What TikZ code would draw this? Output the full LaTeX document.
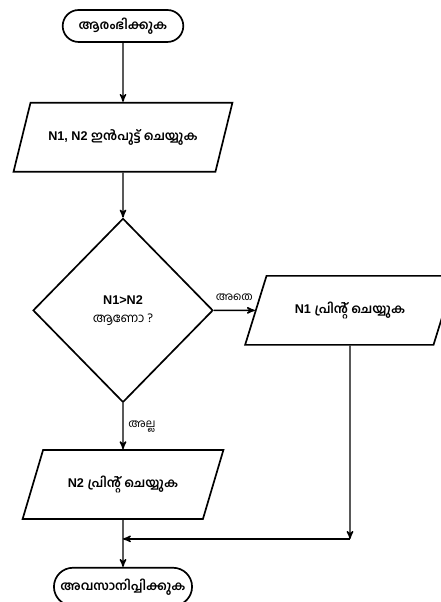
\documentclass[tikz,border=0pt]{standalone}
\usepackage{fontspec}
\setmainfont{Liberation Sans}
\newfontfamily\mlfont[Script=Malayalam]{Hind Kochi}
\newcommand{\ml}[1]{{\mlfont #1}}
\usetikzlibrary{shapes.geometric, shapes.misc, positioning, arrows}
\tikzset{
>=stealth', % arrow heads of the connectors
every node/.style={font=\bfseries\fontsize{9}{11}\selectfont}, % text in the blocks
terminal/.style={rounded rectangle, draw, line width=1.2pt, minimum width=3.25cm, minimum height=0.8cm}, % start and stop
io/.style={trapezium, trapezium left angle=60, trapezium right angle=120, trapezium stretches=true, draw, line width=1.2pt, minimum height=1.725cm}, % input and output
decision/.style={diamond, draw, line width=1.2pt, minimum width=4.5cm, minimum height=4.6cm, inner sep=0pt, align=center}, % the test
branch/.style={font=\mdseries\fontsize{8}{10}\selectfont}, % yes / no labels
}
\begin{document}
\begin{tikzpicture}
  \useasboundingbox (0,0) rectangle (11,15.05);

  % Blocks
  \node[terminal] (start) at (3.075,14.4) {\ml{ആരംഭിക്കുക}};
  \node[io, minimum width=5.475cm, below=1.475cm of start] (input) {N1, N2 \ml{ഇൻപുട്ട് ചെയ്യുക}};
  \node[decision, below=1.125cm of input] (check) {N1>N2\\[2pt] {\mdseries\ml{ആണോ ?}}};
  \node[io, minimum width=5.25cm] (n1print) at ([xshift=5.675cm]check) {N1 \ml{പ്രിന്റ് ചെയ്യുക}};
  \node[io, minimum width=5.025cm, below=1.15cm of check] (n2print) {N2 \ml{പ്രിന്റ് ചെയ്യുക}};
  \node[terminal, minimum height=0.95cm, below=1.175cm of n2print] (stop) {\ml{അവസാനിപ്പിക്കുക}};
  \coordinate (merge) at ([yshift=-0.475cm]n2print.south);
  \coordinate (corner) at (n1print.south |- merge);

  % Arrows
  \path[->, line width=1pt]
    (start) edge (input)
    (input) edge (check)
    (check) edge node[branch, above, yshift=3pt] {\ml{അതെ}} (n1print)
    (check) edge node[branch, right] {\ml{അല്ല}} (n2print)
    (n2print) edge (stop)
    (n1print) edge (corner)
    (corner) edge (merge);
\end{tikzpicture}
\end{document}
